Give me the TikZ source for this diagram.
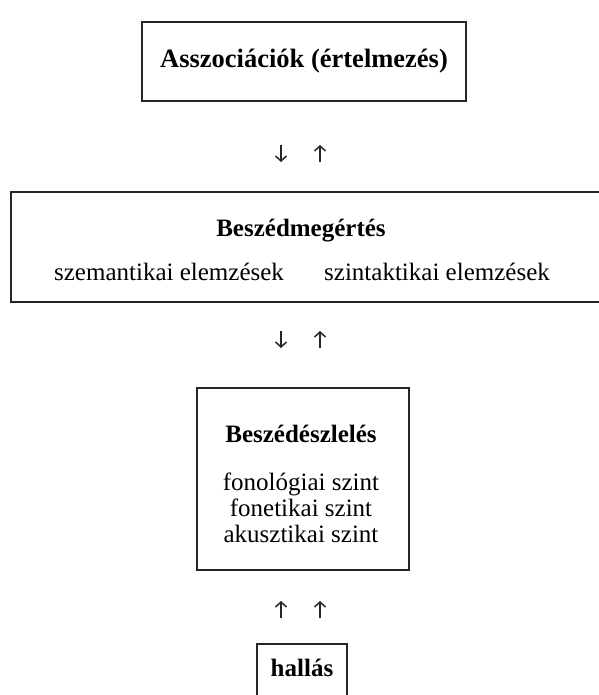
\documentclass[tikz,border=0pt]{standalone}
\usepackage{fontspec}
\setmainfont{Liberation Serif}
\usetikzlibrary{arrows.meta}
\begin{document}
\begin{tikzpicture}[x=1pt,y=-1pt,
  frame/.style={draw=black!85,line width=1.6pt,inner sep=0pt},
  lbl/.style={inner sep=0pt,font=\fontsize{25}{27}\selectfont,text=black},
  head/.style={lbl,font=\fontsize{25}{27}\selectfont\bfseries},
  arr/.style={line width=1.5pt,black!85,-{Straight Barb[length=5pt,width=11pt,line width=1.5pt]}}]
\useasboundingbox[fill=white] (0,0) rectangle (598,695);
% boxes
\node[frame,minimum width=324pt,minimum height=79pt] (b1) at (304,61.5) {};
\node[head,font=\fontsize{26.5}{28}\selectfont\bfseries] (t1) at (304,61) {Asszociációk (értelmezés)};
\node[frame,minimum width=600pt,minimum height=110pt] (b2) at (311,247) {};
\node[head] (t2) at (301,231) {Beszédmegértés};
\node[lbl] (t2a) at (169,272) {szemantikai elemzések};
\node[lbl] (t2b) at (437,272) {szintaktikai elemzések};
\node[frame,minimum width=212pt,minimum height=182pt] (b3) at (303,479) {};
\node[head] (t3) at (301,434) {Beszédészlelés};
\node[lbl,align=center,font=\fontsize{25}{26}\selectfont] (t3a) at (301,508) {fonológiai szint\\fonetikai szint\\akusztikai szint};
\node[frame,minimum width=90pt,minimum height=72pt] (b4) at (302,680) {};
\node[head] (t4) at (302,668) {hallás};
% arrows
\coordinate (a1s) at (281,145); \coordinate (a1e) at (281,162);
\coordinate (a2s) at (320,162); \coordinate (a2e) at (320,145);
\coordinate (a3s) at (281,331); \coordinate (a3e) at (281,348);
\coordinate (a4s) at (320,348); \coordinate (a4e) at (320,331);
\coordinate (a5s) at (281,618); \coordinate (a5e) at (281,601);
\coordinate (a6s) at (320,618); \coordinate (a6e) at (320,601);
\draw[arr] (a1s) -- (a1e);
\draw[arr] (a2s) -- (a2e);
\draw[arr] (a3s) -- (a3e);
\draw[arr] (a4s) -- (a4e);
\draw[arr] (a5s) -- (a5e);
\draw[arr] (a6s) -- (a6e);
\end{tikzpicture}
\end{document}
